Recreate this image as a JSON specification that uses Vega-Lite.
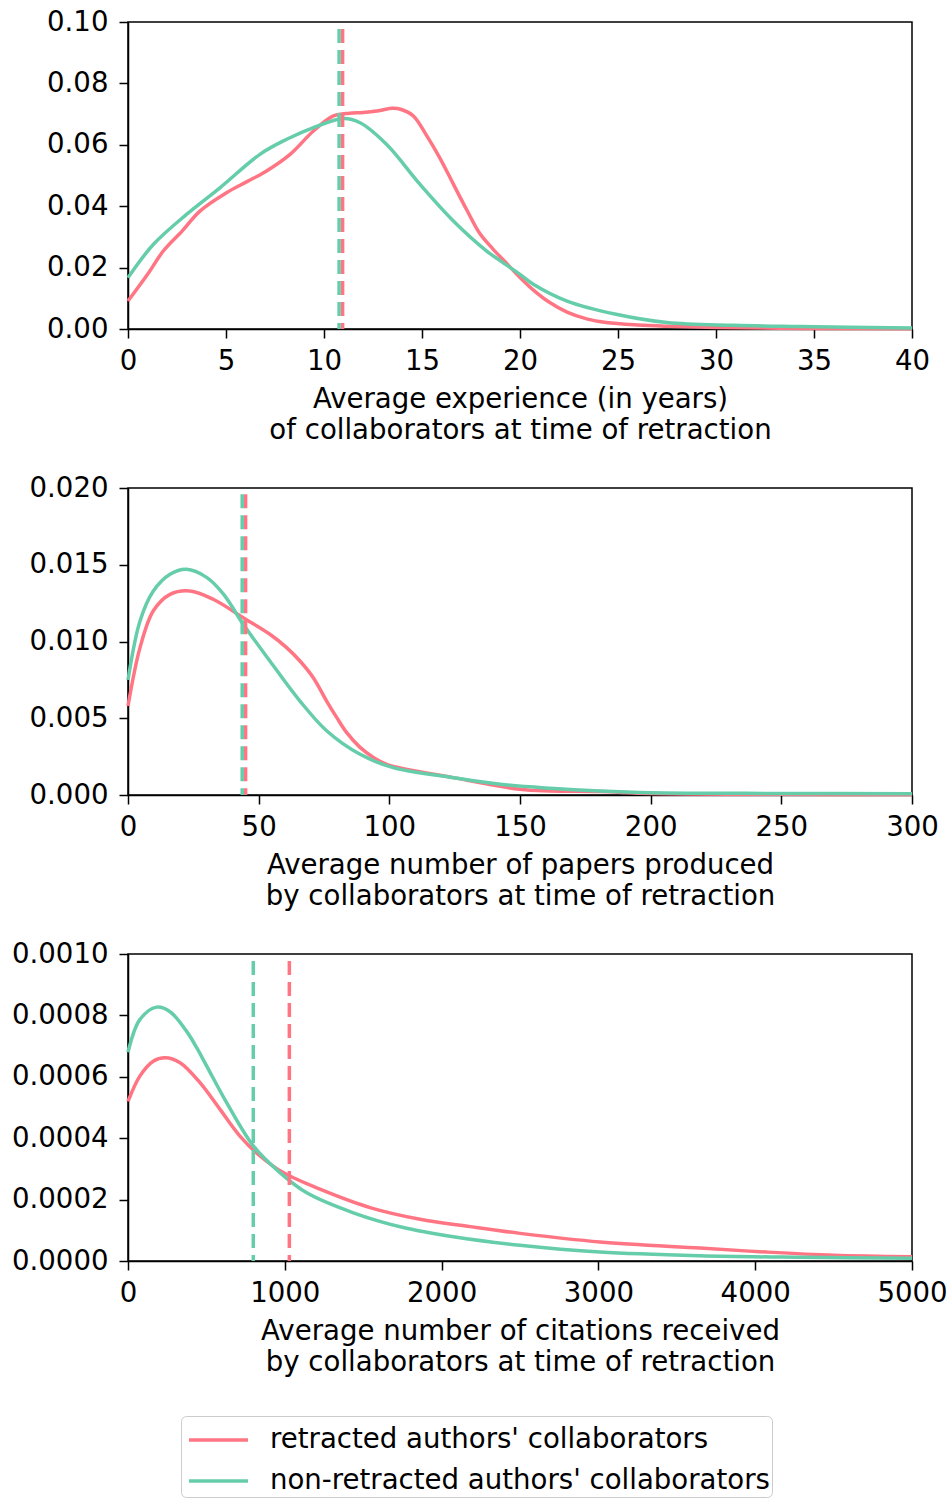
{
  "$schema": "https://vega.github.io/schema/vega-lite/v6.json",
  "padding": {"left": 10, "top": 7, "right": 0, "bottom": 0},
  "spacing": 159,
  "bounds": "flush",
  "datasets": {
    "curves": [
      {"p": "exp", "g": "retracted authors' collaborators", "x": 0, "y": 0.0091},
      {"p": "exp", "g": "retracted authors' collaborators", "x": 1, "y": 0.0178},
      {"p": "exp", "g": "retracted authors' collaborators", "x": 1.8, "y": 0.0254},
      {"p": "exp", "g": "retracted authors' collaborators", "x": 2.76, "y": 0.0319},
      {"p": "exp", "g": "retracted authors' collaborators", "x": 3.67, "y": 0.0384},
      {"p": "exp", "g": "retracted authors' collaborators", "x": 5.03, "y": 0.0444},
      {"p": "exp", "g": "retracted authors' collaborators", "x": 6.07, "y": 0.048},
      {"p": "exp", "g": "retracted authors' collaborators", "x": 7.07, "y": 0.0515},
      {"p": "exp", "g": "retracted authors' collaborators", "x": 8.27, "y": 0.0569},
      {"p": "exp", "g": "retracted authors' collaborators", "x": 9.46, "y": 0.0645},
      {"p": "exp", "g": "retracted authors' collaborators", "x": 10.48, "y": 0.0694},
      {"p": "exp", "g": "retracted authors' collaborators", "x": 11.3, "y": 0.0703},
      {"p": "exp", "g": "retracted authors' collaborators", "x": 12.0, "y": 0.0705},
      {"p": "exp", "g": "retracted authors' collaborators", "x": 12.8, "y": 0.0711},
      {"p": "exp", "g": "retracted authors' collaborators", "x": 13.5, "y": 0.0719},
      {"p": "exp", "g": "retracted authors' collaborators", "x": 13.95, "y": 0.0715},
      {"p": "exp", "g": "retracted authors' collaborators", "x": 14.56, "y": 0.0694},
      {"p": "exp", "g": "retracted authors' collaborators", "x": 15.2, "y": 0.0634},
      {"p": "exp", "g": "retracted authors' collaborators", "x": 15.92, "y": 0.0556},
      {"p": "exp", "g": "retracted authors' collaborators", "x": 16.6, "y": 0.0472},
      {"p": "exp", "g": "retracted authors' collaborators", "x": 17.3, "y": 0.0386},
      {"p": "exp", "g": "retracted authors' collaborators", "x": 17.96, "y": 0.031},
      {"p": "exp", "g": "retracted authors' collaborators", "x": 18.6, "y": 0.0262},
      {"p": "exp", "g": "retracted authors' collaborators", "x": 19.3, "y": 0.0215},
      {"p": "exp", "g": "retracted authors' collaborators", "x": 20.0, "y": 0.0168},
      {"p": "exp", "g": "retracted authors' collaborators", "x": 20.7, "y": 0.0126},
      {"p": "exp", "g": "retracted authors' collaborators", "x": 21.5, "y": 0.0087},
      {"p": "exp", "g": "retracted authors' collaborators", "x": 22.4, "y": 0.0055},
      {"p": "exp", "g": "retracted authors' collaborators", "x": 23.4, "y": 0.0033},
      {"p": "exp", "g": "retracted authors' collaborators", "x": 24.4, "y": 0.0021},
      {"p": "exp", "g": "retracted authors' collaborators", "x": 26, "y": 0.0013},
      {"p": "exp", "g": "retracted authors' collaborators", "x": 27.5, "y": 0.0009},
      {"p": "exp", "g": "retracted authors' collaborators", "x": 30, "y": 0.0005},
      {"p": "exp", "g": "retracted authors' collaborators", "x": 35, "y": 0.0002},
      {"p": "exp", "g": "retracted authors' collaborators", "x": 40, "y": 0.0001},
      {"p": "exp", "g": "non-retracted authors' collaborators", "x": 0, "y": 0.0167},
      {"p": "exp", "g": "non-retracted authors' collaborators", "x": 1.3, "y": 0.0276},
      {"p": "exp", "g": "non-retracted authors' collaborators", "x": 3.0, "y": 0.0374},
      {"p": "exp", "g": "non-retracted authors' collaborators", "x": 4.69, "y": 0.046},
      {"p": "exp", "g": "non-retracted authors' collaborators", "x": 6.73, "y": 0.0569},
      {"p": "exp", "g": "non-retracted authors' collaborators", "x": 8.1, "y": 0.0618},
      {"p": "exp", "g": "non-retracted authors' collaborators", "x": 9.46, "y": 0.0656},
      {"p": "exp", "g": "non-retracted authors' collaborators", "x": 11.0, "y": 0.0686},
      {"p": "exp", "g": "non-retracted authors' collaborators", "x": 11.84, "y": 0.0672},
      {"p": "exp", "g": "non-retracted authors' collaborators", "x": 13.2, "y": 0.0601},
      {"p": "exp", "g": "non-retracted authors' collaborators", "x": 14.9, "y": 0.0471},
      {"p": "exp", "g": "non-retracted authors' collaborators", "x": 16.6, "y": 0.0352},
      {"p": "exp", "g": "non-retracted authors' collaborators", "x": 18.3, "y": 0.0254},
      {"p": "exp", "g": "non-retracted authors' collaborators", "x": 19.0, "y": 0.0222},
      {"p": "exp", "g": "non-retracted authors' collaborators", "x": 20.0, "y": 0.0178},
      {"p": "exp", "g": "non-retracted authors' collaborators", "x": 20.7, "y": 0.0145},
      {"p": "exp", "g": "non-retracted authors' collaborators", "x": 22.4, "y": 0.0091},
      {"p": "exp", "g": "non-retracted authors' collaborators", "x": 24.9, "y": 0.0048},
      {"p": "exp", "g": "non-retracted authors' collaborators", "x": 27.5, "y": 0.0021},
      {"p": "exp", "g": "non-retracted authors' collaborators", "x": 30.9, "y": 0.0012},
      {"p": "exp", "g": "non-retracted authors' collaborators", "x": 34.3, "y": 0.0008},
      {"p": "exp", "g": "non-retracted authors' collaborators", "x": 40, "y": 0.0003},

      {"p": "pap", "g": "retracted authors' collaborators", "x": 0, "y": 0.0058},
      {"p": "pap", "g": "retracted authors' collaborators", "x": 4.6, "y": 0.0096},
      {"p": "pap", "g": "retracted authors' collaborators", "x": 9.7, "y": 0.012},
      {"p": "pap", "g": "retracted authors' collaborators", "x": 16.1, "y": 0.01307},
      {"p": "pap", "g": "retracted authors' collaborators", "x": 23.7, "y": 0.01329},
      {"p": "pap", "g": "retracted authors' collaborators", "x": 32.6, "y": 0.01275},
      {"p": "pap", "g": "retracted authors' collaborators", "x": 44.1, "y": 0.01155},
      {"p": "pap", "g": "retracted authors' collaborators", "x": 54.3, "y": 0.01047},
      {"p": "pap", "g": "retracted authors' collaborators", "x": 60.7, "y": 0.0096},
      {"p": "pap", "g": "retracted authors' collaborators", "x": 65.8, "y": 0.00873},
      {"p": "pap", "g": "retracted authors' collaborators", "x": 70.9, "y": 0.00764},
      {"p": "pap", "g": "retracted authors' collaborators", "x": 76.0, "y": 0.00612},
      {"p": "pap", "g": "retracted authors' collaborators", "x": 79.9, "y": 0.00504},
      {"p": "pap", "g": "retracted authors' collaborators", "x": 83.7, "y": 0.00406},
      {"p": "pap", "g": "retracted authors' collaborators", "x": 88.8, "y": 0.0031},
      {"p": "pap", "g": "retracted authors' collaborators", "x": 93.9, "y": 0.00245},
      {"p": "pap", "g": "retracted authors' collaborators", "x": 99, "y": 0.002},
      {"p": "pap", "g": "retracted authors' collaborators", "x": 124.5, "y": 0.00113},
      {"p": "pap", "g": "retracted authors' collaborators", "x": 150, "y": 0.00037},
      {"p": "pap", "g": "retracted authors' collaborators", "x": 161.5, "y": 0.00026},
      {"p": "pap", "g": "retracted authors' collaborators", "x": 180.6, "y": 0.00022},
      {"p": "pap", "g": "retracted authors' collaborators", "x": 199.8, "y": 0.0001},
      {"p": "pap", "g": "retracted authors' collaborators", "x": 250, "y": 0.00005},
      {"p": "pap", "g": "retracted authors' collaborators", "x": 300, "y": 0.00003},
      {"p": "pap", "g": "non-retracted authors' collaborators", "x": 0, "y": 0.0075},
      {"p": "pap", "g": "non-retracted authors' collaborators", "x": 4.6, "y": 0.01134},
      {"p": "pap", "g": "non-retracted authors' collaborators", "x": 9.7, "y": 0.01329},
      {"p": "pap", "g": "non-retracted authors' collaborators", "x": 16.1, "y": 0.01438},
      {"p": "pap", "g": "non-retracted authors' collaborators", "x": 22.4, "y": 0.0147},
      {"p": "pap", "g": "non-retracted authors' collaborators", "x": 30.2, "y": 0.01416},
      {"p": "pap", "g": "non-retracted authors' collaborators", "x": 36.6, "y": 0.01307},
      {"p": "pap", "g": "non-retracted authors' collaborators", "x": 44.1, "y": 0.01112},
      {"p": "pap", "g": "non-retracted authors' collaborators", "x": 54.3, "y": 0.00873},
      {"p": "pap", "g": "non-retracted authors' collaborators", "x": 65.8, "y": 0.00612},
      {"p": "pap", "g": "non-retracted authors' collaborators", "x": 76.1, "y": 0.00417},
      {"p": "pap", "g": "non-retracted authors' collaborators", "x": 88.8, "y": 0.00265},
      {"p": "pap", "g": "non-retracted authors' collaborators", "x": 101.5, "y": 0.00178},
      {"p": "pap", "g": "non-retracted authors' collaborators", "x": 124.5, "y": 0.00113},
      {"p": "pap", "g": "non-retracted authors' collaborators", "x": 142.4, "y": 0.0007},
      {"p": "pap", "g": "non-retracted authors' collaborators", "x": 161.5, "y": 0.00044},
      {"p": "pap", "g": "non-retracted authors' collaborators", "x": 180.6, "y": 0.00026},
      {"p": "pap", "g": "non-retracted authors' collaborators", "x": 199.8, "y": 0.00015},
      {"p": "pap", "g": "non-retracted authors' collaborators", "x": 250, "y": 0.0001},
      {"p": "pap", "g": "non-retracted authors' collaborators", "x": 300, "y": 0.00008},

      {"p": "cit", "g": "retracted authors' collaborators", "x": 0, "y": 0.00052},
      {"p": "cit", "g": "retracted authors' collaborators", "x": 76.5, "y": 0.000603},
      {"p": "cit", "g": "retracted authors' collaborators", "x": 161, "y": 0.000651},
      {"p": "cit", "g": "retracted authors' collaborators", "x": 236, "y": 0.000662},
      {"p": "cit", "g": "retracted authors' collaborators", "x": 332, "y": 0.000646},
      {"p": "cit", "g": "retracted authors' collaborators", "x": 459, "y": 0.000581},
      {"p": "cit", "g": "retracted authors' collaborators", "x": 587, "y": 0.000494},
      {"p": "cit", "g": "retracted authors' collaborators", "x": 714, "y": 0.000407},
      {"p": "cit", "g": "retracted authors' collaborators", "x": 842, "y": 0.000342},
      {"p": "cit", "g": "retracted authors' collaborators", "x": 990, "y": 0.000288},
      {"p": "cit", "g": "retracted authors' collaborators", "x": 1224, "y": 0.000234},
      {"p": "cit", "g": "retracted authors' collaborators", "x": 1543, "y": 0.000174},
      {"p": "cit", "g": "retracted authors' collaborators", "x": 1862, "y": 0.000136},
      {"p": "cit", "g": "retracted authors' collaborators", "x": 2181, "y": 0.000112},
      {"p": "cit", "g": "retracted authors' collaborators", "x": 2500, "y": 0.00009},
      {"p": "cit", "g": "retracted authors' collaborators", "x": 3010, "y": 0.000062},
      {"p": "cit", "g": "retracted authors' collaborators", "x": 3648, "y": 0.000042},
      {"p": "cit", "g": "retracted authors' collaborators", "x": 4074, "y": 0.000029},
      {"p": "cit", "g": "retracted authors' collaborators", "x": 4500, "y": 0.000019},
      {"p": "cit", "g": "retracted authors' collaborators", "x": 5000, "y": 0.000014},
      {"p": "cit", "g": "non-retracted authors' collaborators", "x": 0, "y": 0.00068},
      {"p": "cit", "g": "non-retracted authors' collaborators", "x": 76.5, "y": 0.000787},
      {"p": "cit", "g": "non-retracted authors' collaborators", "x": 183, "y": 0.000827},
      {"p": "cit", "g": "non-retracted authors' collaborators", "x": 268, "y": 0.000812},
      {"p": "cit", "g": "non-retracted authors' collaborators", "x": 374, "y": 0.000748},
      {"p": "cit", "g": "non-retracted authors' collaborators", "x": 438, "y": 0.000695},
      {"p": "cit", "g": "non-retracted authors' collaborators", "x": 502, "y": 0.000635},
      {"p": "cit", "g": "non-retracted authors' collaborators", "x": 629, "y": 0.000516},
      {"p": "cit", "g": "non-retracted authors' collaborators", "x": 799, "y": 0.000375},
      {"p": "cit", "g": "non-retracted authors' collaborators", "x": 969, "y": 0.000288},
      {"p": "cit", "g": "non-retracted authors' collaborators", "x": 1140, "y": 0.000222},
      {"p": "cit", "g": "non-retracted authors' collaborators", "x": 1437, "y": 0.000157},
      {"p": "cit", "g": "non-retracted authors' collaborators", "x": 1756, "y": 0.000109},
      {"p": "cit", "g": "non-retracted authors' collaborators", "x": 2075, "y": 0.000079},
      {"p": "cit", "g": "non-retracted authors' collaborators", "x": 2500, "y": 0.000051},
      {"p": "cit", "g": "non-retracted authors' collaborators", "x": 3010, "y": 0.000029},
      {"p": "cit", "g": "non-retracted authors' collaborators", "x": 3648, "y": 0.000017},
      {"p": "cit", "g": "non-retracted authors' collaborators", "x": 4287, "y": 0.000012},
      {"p": "cit", "g": "non-retracted authors' collaborators", "x": 5000, "y": 0.000009}
    ],
    "means": [
      {"p": "exp", "g": "retracted authors' collaborators", "x": 10.95, "top": 0.0977},
      {"p": "exp", "g": "non-retracted authors' collaborators", "x": 10.77, "top": 0.0977},
      {"p": "pap", "g": "retracted authors' collaborators", "x": 45.0, "top": 0.0196},
      {"p": "pap", "g": "non-retracted authors' collaborators", "x": 43.7, "top": 0.0196},
      {"p": "cit", "g": "retracted authors' collaborators", "x": 1029, "top": 0.000977},
      {"p": "cit", "g": "non-retracted authors' collaborators", "x": 799, "top": 0.000977}
    ]
  },
  "vconcat": [
    {
      "width": 784, "height": 307,
      "layer": [
        {
          "data": {"name": "curves"},
          "transform": [{"filter": "datum.p == 'exp'"}],
          "mark": {"type": "line", "interpolate": "catmull-rom", "strokeWidth": 3.5},
          "encoding": {
            "x": {"field": "x", "type": "quantitative", "scale": {"domain": [0, 40], "nice": false}, "axis": {"values": [0, 5, 10, 15, 20, 25, 30, 35, 40], "title": ["Average experience (in years)", "of collaborators at time of retraction"]}},
            "y": {"field": "y", "type": "quantitative", "scale": {"domain": [0, 0.1], "nice": false}, "axis": {"values": [0, 0.02, 0.04, 0.06, 0.08, 0.1], "format": ".2f", "title": null}},
            "color": {"field": "g", "type": "nominal", "scale": {"domain": ["retracted authors' collaborators", "non-retracted authors' collaborators"], "range": ["#ff7583", "#66cdaa"]},
              "legend": {"orient": "none", "legendX": 53, "legendY": 1394, "direction": "vertical", "title": null, "symbolType": "M-0.8,0H2.15", "symbolSize": 1600, "symbolStrokeWidth": 3.5, "labelFontSize": 27.6, "labelOffset": 43, "padding": 2, "rowPadding": 5, "strokeColor": "#cccccc", "cornerRadius": 5, "fillColor": "white", "labelLimit": 1000}}
          }
        },
        {
          "data": {"name": "means"},
          "transform": [{"filter": "datum.p == 'exp'"}],
          "mark": {"type": "rule", "strokeWidth": 3.5, "strokeDash": [14, 7]},
          "encoding": {
            "x": {"field": "x", "type": "quantitative"},
            "y": {"field": "top", "type": "quantitative"},
            "y2": {"datum": 0},
            "color": {"field": "g", "type": "nominal"}
          }
        }
      ]
    },
    {
      "width": 784, "height": 307,
      "layer": [
        {
          "data": {"name": "curves"},
          "transform": [{"filter": "datum.p == 'pap'"}],
          "mark": {"type": "line", "interpolate": "catmull-rom", "strokeWidth": 3.5},
          "encoding": {
            "x": {"field": "x", "type": "quantitative", "scale": {"domain": [0, 300], "nice": false}, "axis": {"values": [0, 50, 100, 150, 200, 250, 300], "title": ["Average number of papers produced", "by collaborators at time of retraction"]}},
            "y": {"field": "y", "type": "quantitative", "scale": {"domain": [0, 0.02], "nice": false}, "axis": {"values": [0, 0.005, 0.01, 0.015, 0.02], "format": ".3f", "title": null}},
            "color": {"field": "g", "type": "nominal"}
          }
        },
        {
          "data": {"name": "means"},
          "transform": [{"filter": "datum.p == 'pap'"}],
          "mark": {"type": "rule", "strokeWidth": 3.5, "strokeDash": [14, 7]},
          "encoding": {
            "x": {"field": "x", "type": "quantitative"},
            "y": {"field": "top", "type": "quantitative"},
            "y2": {"datum": 0},
            "color": {"field": "g", "type": "nominal"}
          }
        }
      ]
    },
    {
      "width": 784, "height": 307,
      "layer": [
        {
          "data": {"name": "curves"},
          "transform": [{"filter": "datum.p == 'cit'"}],
          "mark": {"type": "line", "interpolate": "catmull-rom", "strokeWidth": 3.5},
          "encoding": {
            "x": {"field": "x", "type": "quantitative", "scale": {"domain": [0, 5000], "nice": false}, "axis": {"values": [0, 1000, 2000, 3000, 4000, 5000], "format": "d", "title": ["Average number of citations received", "by collaborators at time of retraction"]}},
            "y": {"field": "y", "type": "quantitative", "scale": {"domain": [0, 0.001], "nice": false}, "axis": {"values": [0, 0.0002, 0.0004, 0.0006, 0.0008, 0.001], "format": ".4f", "title": null}},
            "color": {"field": "g", "type": "nominal"}
          }
        },
        {
          "data": {"name": "means"},
          "transform": [{"filter": "datum.p == 'cit'"}],
          "mark": {"type": "rule", "strokeWidth": 3.5, "strokeDash": [14, 7]},
          "encoding": {
            "x": {"field": "x", "type": "quantitative"},
            "y": {"field": "top", "type": "quantitative"},
            "y2": {"datum": 0},
            "color": {"field": "g", "type": "nominal"}
          }
        }
      ]
    }
  ],
  "config": {
    "font": "DejaVu Sans",
    "view": {"stroke": "black", "strokeWidth": 1.5},
    "axis": {"domainColor": "black", "domainWidth": 1.5, "tickColor": "black", "tickWidth": 1.5, "tickSize": 9, "labelFontSize": 27.6, "labelColor": "black", "labelPadding": 9, "titleFontSize": 27.6, "titleFontWeight": "normal", "titleColor": "black", "titleLineHeight": 31, "titlePadding": 11, "grid": false, "labelFlush": false, "labelOverlap": false},
    "axisY": {"labelPadding": 11},
    "legend": {"labelColor": "black", "labelFont": "DejaVu Sans"}
  }
}
